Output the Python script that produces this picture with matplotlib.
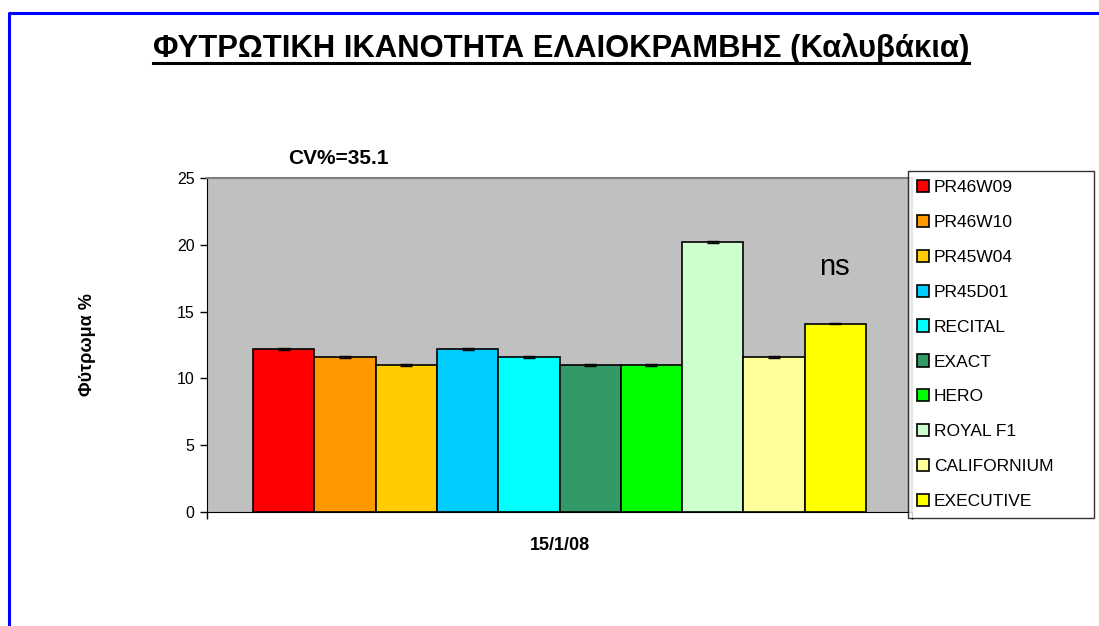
import matplotlib
matplotlib.use("Agg")
import matplotlib.pyplot as plt
from matplotlib.lines import Line2D
import numpy as np

plt.rcParams['font.family'] = ['Liberation Sans', 'DejaVu Sans']

# ---- data ----
varieties = ["PR46W09", "PR46W10", "PR45W04", "PR45D01", "RECITAL",
             "EXACT", "HERO", "ROYAL F1", "CALIFORNIUM", "EXECUTIVE"]
values = [12.2, 11.6, 11.0, 12.2, 11.6, 11.0, 11.0, 20.2, 11.6, 14.1]
errors = [0.05] * 10
colors = ["#FF0000", "#FF9900", "#FFCC00", "#00CCFF", "#00FFFF",
          "#339966", "#00FF00", "#CCFFCC", "#FFFF99", "#FFFF00"]
category = "15/1/08"
title = "ΦΥΤΡΩΤΙΚΗ ΙΚΑΝΟΤΗΤΑ ΕΛΑΙΟΚΡΑΜΒΗΣ (Καλυβάκια)"
ylabel = "Φύτρωμα %"
cv_text = "CV%=35.1"
sig_text = "ns"
yticks = [0, 5, 10, 15, 20, 25]

W, H = 1099, 626
fig = plt.figure(figsize=(W / 100, H / 100), dpi=100)

# plot area in pixels
L, R, T, B = 207, 912, 178, 512
ax = fig.add_axes([L / W, 1 - B / H, (R - L) / W, (B - T) / H])
ax.set_facecolor("#C0C0C0")

n = len(values)
gap = 1.5  # Excel gap width (fraction of a bar width)
bw = 1.0 / (n + gap)
x0 = -0.5 + gap * bw / 2
xs = [x0 + bw * (i + 0.5) for i in range(n)]
bars = []
for i in range(n):
    b = ax.bar(xs[i], values[i], width=bw, color=colors[i], edgecolor="black",
               linewidth=1.2, label=varieties[i], zorder=2)
    bars.append(b)
ax.errorbar(xs, values, yerr=errors, fmt="none", ecolor="black",
            elinewidth=0.8, capsize=4, capthick=1.0, zorder=3)

ax.set_xlim(-0.5, 0.5)
ax.set_ylim(0, 25)
ax.set_yticks(yticks)
ax.set_yticklabels([str(t) for t in yticks], fontsize=11.5)
ax.set_xticks([-0.5, 0.5])
ax.set_xticklabels(["", ""])
ax.tick_params(axis="y", direction="out", length=5, width=1, pad=4)
ax.tick_params(axis="x", direction="out", length=5, width=1)
for s in ["top", "right"]:
    ax.spines[s].set_color("#808080")
    ax.spines[s].set_linewidth(1.5)
ax.spines["left"].set_color("black")
ax.spines["bottom"].set_color("black")

fig.text(560 / W, 1 - 545 / H, category, fontsize=13, fontweight="bold",
         ha="center", va="center")
fig.text(88 / W, 1 - 345 / H, ylabel, rotation=90, fontsize=13,
         fontweight="bold", ha="center", va="center")
fig.text(338 / W, 1 - 159 / H, cv_text, fontsize=15, fontweight="bold",
         ha="center", va="center")
fig.text(834 / W, 1 - 267 / H, sig_text, fontsize=21, ha="center", va="center")

# legend
leg = fig.legend(handles=[b[0] for b in bars], labels=varieties,
                 loc="upper left",
                 bbox_to_anchor=(908 / W, 1 - 515 / H, 186 / W, (515 - 171) / H),
                 mode="expand", fontsize=12.5, frameon=True, fancybox=False,
                 edgecolor="black", handlelength=0.7, handleheight=0.7,
                 handletextpad=0.3, labelspacing=1.14, borderpad=0.5,
                 borderaxespad=0)
leg.get_frame().set_linewidth(1)

# title with underline
tt = fig.text(561 / W, 1 - 49 / H, title, fontsize=19, fontweight="bold",
              ha="center", va="center")
fig.canvas.draw()
r = fig.canvas.get_renderer()
bb = tt.get_window_extent(r)
tt.set_fontsize(19 * 813 / bb.width)
fig.canvas.draw()
bb = tt.get_window_extent(r)
uy = bb.y0 + 1
fig.add_artist(Line2D([bb.x0 / W, bb.x1 / W], [uy / H, uy / H],
                      color="black", linewidth=2.2, transform=fig.transFigure))

# blue frame
fig.add_artist(Line2D([8.5 / W, 8.5 / W, 1.0], [0, 1 - 12.5 / H, 1 - 12.5 / H],
                      color="#0000FF", linewidth=2.2, transform=fig.transFigure))

fig.savefig("out.png", dpi=100)
